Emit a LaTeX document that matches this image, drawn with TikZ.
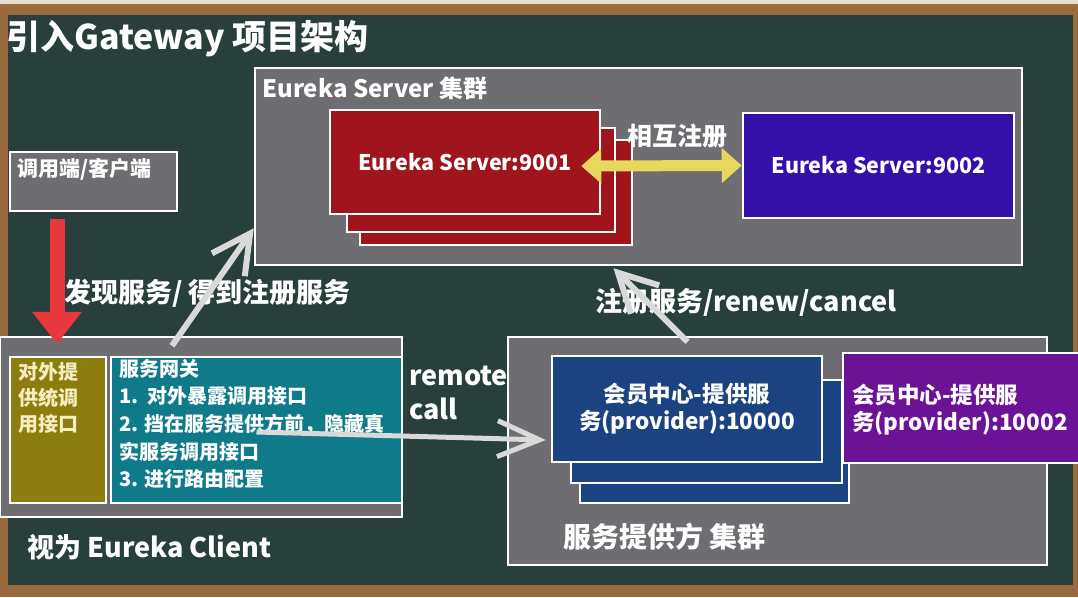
\documentclass[tikz,border=0pt]{standalone}
\usepackage{fontspec}
\setmainfont{Noto Sans CJK SC}
\usetikzlibrary{arrows.meta}
\definecolor{board}{HTML}{283F3B}
\definecolor{wood}{HTML}{9A6A3C}
\definecolor{woodlight}{HTML}{E6DDCF}
\definecolor{boxgray}{HTML}{6E6E72}
\definecolor{srvred}{HTML}{A0151C}
\definecolor{srvblue}{HTML}{3510A8}
\definecolor{gwolive}{HTML}{8C7D0E}
\definecolor{gwteal}{HTML}{0F7A8A}
\definecolor{provblue}{HTML}{1B4382}
\definecolor{provpurple}{HTML}{6C1296}
\definecolor{arrowred}{HTML}{E8383D}
\definecolor{arrowgray}{HTML}{D9D9D9}
\definecolor{arrowyellow}{HTML}{E6D85C}
\definecolor{olivetext}{HTML}{F5EEC0}
\newcommand{\fsz}[2]{\fontsize{#1}{#2}\selectfont}

\begin{document}
\begin{tikzpicture}[x=1pt, y=-1pt,
        every node/.style={text=white, inner sep=0pt, align=left},
        panel/.style={rectangle, draw=white, line width=2.5pt, fill=boxgray},
        srv/.style={rectangle, draw=white, line width=2.5pt, minimum width=270pt, minimum height=104pt, align=center, font=\bfseries\fsz{21.5}{24}},
        prov/.style={rectangle, draw=white, line width=2.5pt, fill=provblue, minimum width=270pt, minimum height=104pt, align=center, font=\bfseries\fsz{22.5}{27}},
        lbl/.style={anchor=west, font=\bfseries\fsz{27}{34}},
        flow/.style={draw=arrowgray, line width=6pt, -{Straight Barb[length=38pt, width=40pt]}}
    ]
        \useasboundingbox (0,0) rectangle (1078,597);
        \fill[wood] (0,0) rectangle (1078,597);
        \fill[woodlight] (0,0) rectangle (1078,4);
        \fill[board] (8,15) rectangle (1073,585);

        \node[anchor=west, font=\bfseries\fsz{34}{34}] (title) at (6,39) {引入Gateway 项目架构};

        \node[panel, minimum width=167pt, minimum height=59pt] (client) at (93.5,181.5) {};
        \node[anchor=west, font=\bfseries\fsz{21}{21}] (clientlbl) at (17,169) {调用端/客户端};

        \node[panel, minimum width=767pt, minimum height=197pt] (eu) at (638.5,166.5) {};
        \node[anchor=west, font=\bfseries\fsz{24}{24}] (eulbl) at (262,88) {Eureka Server 集群};
        \node[srv, fill=srvred, minimum width=272pt, minimum height=105pt] (e1c) at (496,192.5) {};
        \node[srv, fill=srvred, minimum width=268pt] (e1b) at (481,180) {};
        \node[srv, fill=srvred] (e1) at (465,162) {Eureka Server:9001};
        \node[srv, fill=srvblue, minimum width=271pt, minimum height=105pt] (e2) at (878.5,165.5) {Eureka Server:9002};
        \node[anchor=west, font=\bfseries\fsz{25}{25}] (mutual) at (627,136) {相互注册};

        \node[panel, minimum width=402pt, minimum height=180pt] (gw) at (201,427) {};
        \node[rectangle, draw=white, line width=2.5pt, fill=gwolive, minimum width=96pt, minimum height=146pt] (gwol) at (58,430) {};
        \node[rectangle, draw=white, line width=2.5pt, fill=gwteal, minimum width=291pt, minimum height=146pt] (gwcore) at (256.5,430) {};
        \node[anchor=west, text=olivetext, font=\bfseries\fsz{20}{26}] (gwoltxt) at (18,398) {对外提\\供统调\\用接口};
        \node[anchor=west, font=\bfseries\fsz{20}{27.7}] (gwtxt) at (119,424) {服务网关\\1.~~对外暴露调用接口\\2. 挡在服务提供方前，隐藏真\\实服务调用接口\\3. 进行路由配置};
        \node[lbl] (gwlbl) at (27,547) {视为 Eureka Client};

        \node[panel, minimum width=539pt, minimum height=228pt] (pc) at (777.5,451) {};
        \node[prov, minimum width=269pt, minimum height=103pt] (p1c) at (714.5,451.5) {};
        \node[prov, minimum width=271pt, minimum height=103pt] (p1b) at (706.5,431.5) {};
        \node[prov, minimum height=106pt] (p1) at (687,409) {会员中心-提供服\\务(provider):10000};
        \node[rectangle, draw=white, line width=2.5pt, fill=provpurple, minimum width=247pt, minimum height=110pt] (p2) at (966.5,408) {};
        \node[anchor=west, font=\bfseries\fsz{22.5}{27}] (p2txt) at (852,410) {会员中心-提供服\\务(provider):10002};
        \node[lbl, font=\bfseries\fsz{28}{28}] (pclbl) at (563,537) {服务提供方 集群};

        \node[lbl] (remote) at (409,393) {remote\\call};
        \node[lbl] (discover) at (64,293) {发现服务/ 得到注册服务};
        \node[lbl] (register) at (595,302) {注册服务/renew/cancel};

        \draw[arrowred, line width=15pt, -{Triangle[length=32pt, width=48pt]}] ([shift={(-36.5pt,-7pt)}]client.south) -- ([shift={(-144pt,-8pt)}]gw.north);
        \draw[arrowyellow, line width=11pt, {Triangle[length=20pt, width=34pt]}-{Triangle[length=20pt, width=34pt]}] ([shift={(-20pt,-4pt)}]e1.east) -- (e2.west);
        \draw[flow] ([shift={(-29pt,-10pt)}]gw.north) -- ([yshift=38pt]eu.south west);
        \draw[flow] ([shift={(-90pt,-6pt)}]pc.north) -- ([shift={(-25pt,-2pt)}]eu.south);
        \draw[flow, line width=5pt, -{Straight Barb[length=42pt, width=36pt]}] ([yshift=-2pt]gwcore.center) -- ([shift={(-5pt,-31pt)}]p1.west);
    \end{tikzpicture}
\end{document}
